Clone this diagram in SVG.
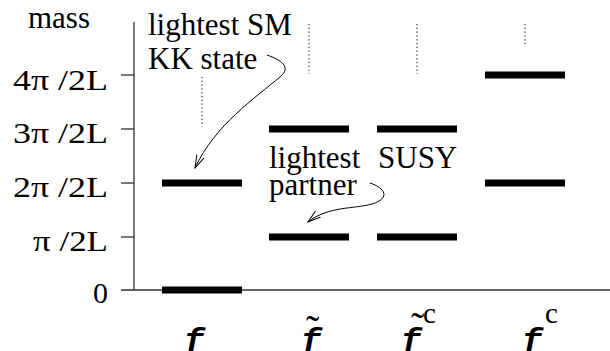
<svg xmlns="http://www.w3.org/2000/svg" width="610" height="351" viewBox="0 0 610 351">
<style>
text{fill:#000;font-family:"Liberation Serif","Times New Roman",serif}
.t{font-size:31px}
.tick{font-size:30px;text-anchor:end}
.f{font-family:"Liberation Mono","Courier New",monospace;font-weight:bold;font-style:italic;font-size:34px}
.sup{font-size:29px}
.til{font-size:40px}
.bar{fill:#000}
.dot{stroke:#000;stroke-width:1;stroke-dasharray:1.2,2.6;fill:none}
.ax{stroke:#333;stroke-width:1.3;fill:none}
.arr{stroke:#000;stroke-width:1;fill:none}
</style>
<defs>
<marker id="ah" viewBox="0 0 14 10" refX="13" refY="5" markerWidth="14" markerHeight="10" markerUnits="userSpaceOnUse" orient="auto">
<polyline points="0,1 13,5 0,9" fill="none" stroke="#000" stroke-width="1"/>
</marker>
</defs>
<rect width="610" height="351" fill="#fff"/>
<g id="axis">
<line class="ax" x1="134" y1="22" x2="134" y2="290"/>
<line class="ax" x1="121" y1="290" x2="610" y2="290"/>
<line class="ax" x1="121" y1="75" x2="134" y2="75"/>
<line class="ax" x1="121" y1="129" x2="134" y2="129"/>
<line class="ax" x1="121" y1="183" x2="134" y2="183"/>
<line class="ax" x1="121" y1="237" x2="134" y2="237"/>
<text class="t" x="28" y="28">mass</text>
<text class="tick" x="108" y="90" textLength="95" lengthAdjust="spacingAndGlyphs">4π /2L</text>
<text class="tick" x="108" y="143" textLength="95" lengthAdjust="spacingAndGlyphs">3π /2L</text>
<text class="tick" x="108" y="197" textLength="95" lengthAdjust="spacingAndGlyphs">2π /2L</text>
<text class="tick" x="108" y="251" textLength="75" lengthAdjust="spacingAndGlyphs">π /2L</text>
<text class="tick" x="108" y="303">0</text>
</g>
<g id="col-f">
<rect class="bar" x="162" y="179.5" width="80" height="7"/>
<rect class="bar" x="162" y="286.5" width="80" height="7"/>
<line class="dot" x1="202" y1="77" x2="202" y2="127"/>
<text class="f" x="184" y="351">f</text>
</g>
<g id="col-ftilde">
<rect class="bar" x="269" y="125.5" width="80" height="7"/>
<rect class="bar" x="269" y="233.5" width="80" height="7"/>
<line class="dot" x1="309" y1="24" x2="309" y2="74"/>
<text class="f" x="301" y="351">f</text>
<text class="til" x="306" y="343">˜</text>
</g>
<g id="col-ftildec">
<rect class="bar" x="377" y="125.5" width="80" height="7"/>
<rect class="bar" x="377" y="233.5" width="80" height="7"/>
<line class="dot" x1="417" y1="24" x2="417" y2="74"/>
<text class="f" x="401" y="351">f</text>
<text class="til" x="411" y="340">˜</text>
<text class="sup" x="423" y="323">c</text>
</g>
<g id="col-fc">
<rect class="bar" x="485" y="71.5" width="80" height="7"/>
<rect class="bar" x="485" y="179.5" width="80" height="7"/>
<line class="dot" x1="525" y1="24" x2="525" y2="47"/>
<text class="f" x="522" y="351">f</text>
<text class="sup" x="545" y="323">c</text>
</g>
<g id="label-sm">
<text class="t" x="148" y="35">lightest SM</text>
<text class="t" x="148" y="69">KK state</text>
</g>
<g id="label-susy">
<text class="t" x="269" y="168">lightest<tspan x="378">SUSY</tspan></text>
<text class="t" x="269" y="195">partner</text>
</g>
<g id="connectors">
<path class="arr" d="M 267 55 C 281 60, 292 67, 280 77 C 255 98, 215 125, 195 168" marker-end="url(#ah)"/>
<path class="arr" d="M 370 183 C 385 188, 391 198, 372 204 C 355 209, 328 206, 308 222" marker-end="url(#ah)"/>
</g>
</svg>
